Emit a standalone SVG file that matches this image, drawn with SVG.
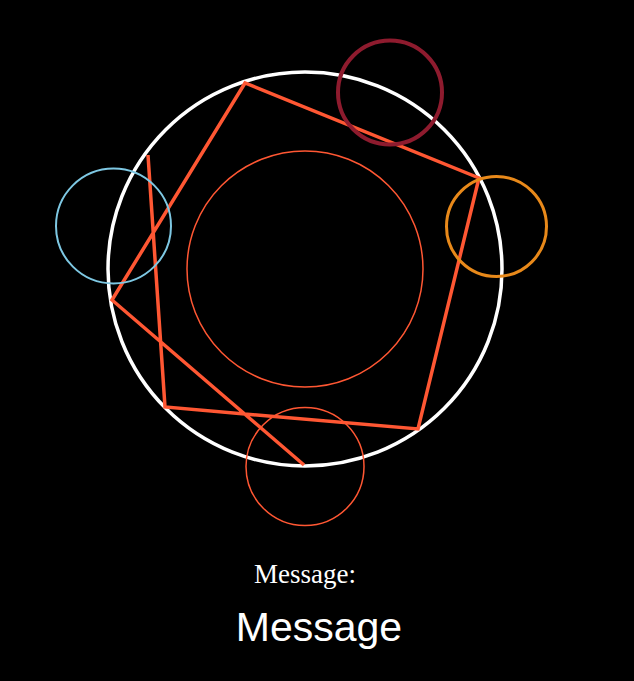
<svg xmlns="http://www.w3.org/2000/svg" width="634" height="681" viewBox="0 0 634 681">
<style>
.ring{fill:none}
.poly{fill:none;stroke:#FF5733;stroke-width:3.5;stroke-linejoin:miter}
.t1{font-family:"Liberation Serif",serif;font-size:27px;fill:#fff;text-anchor:middle}
.t2{font-family:"Liberation Sans",sans-serif;font-size:41px;fill:#fff;text-anchor:middle}
</style>
<rect width="634" height="681" fill="#000"/>
<g id="outer"><circle class="ring" cx="305" cy="269" r="197" stroke="#fff" stroke-width="3.5"/></g>
<g id="inner"><circle class="ring" cx="305" cy="269" r="118" stroke="#FF5733" stroke-width="1.5"/></g>
<g id="connectors"><polyline class="poly" points="148,155 165,407 418,429 479,178 245,83 112,300 304,465"/></g>
<g id="node-red"><circle class="ring" cx="390" cy="92.5" r="52" stroke="#8E1B2E" stroke-width="4"/></g>
<g id="node-orange"><circle class="ring" cx="496.5" cy="226.5" r="50" stroke="#E8891A" stroke-width="3"/></g>
<g id="node-blue"><circle class="ring" cx="113.5" cy="226" r="57.5" stroke="#7EC8E3" stroke-width="2"/></g>
<g id="node-bottom"><circle class="ring" cx="305" cy="466.5" r="59" stroke="#FF5733" stroke-width="1.5"/></g>
<g id="labels">
<text class="t1" x="305" y="583">Message:</text>
<text class="t2" x="319" y="641">Message</text>
</g>
</svg>
